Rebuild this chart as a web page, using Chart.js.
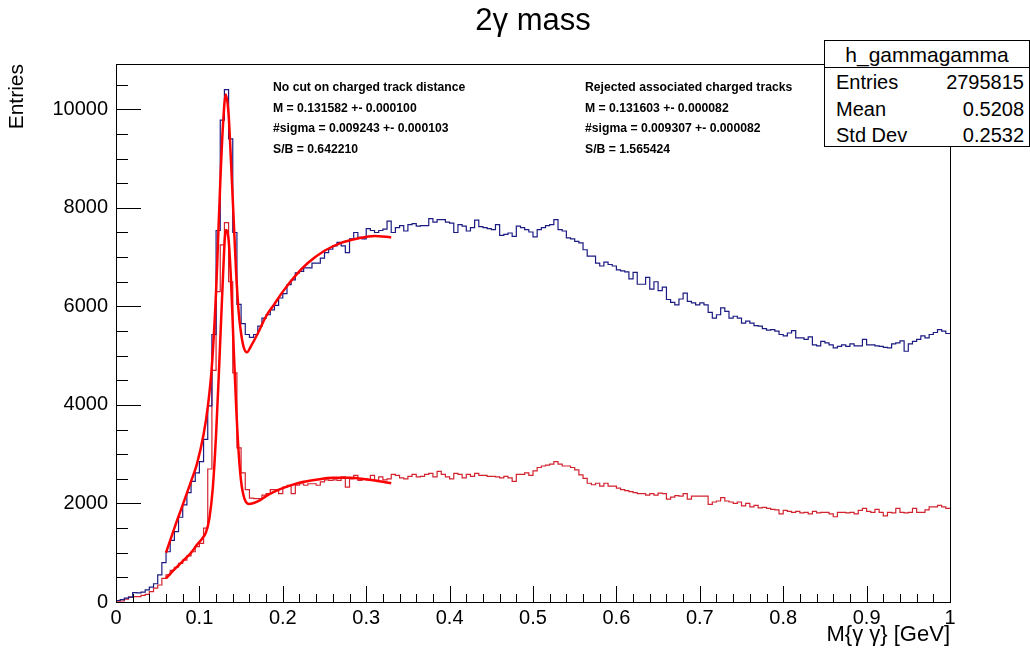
<!DOCTYPE html>
<html>
<head>
<meta charset="utf-8">
<title>2γ mass</title>
<script src="https://cdn.jsdelivr.net/npm/chart.js@4.4.0/dist/chart.umd.min.js"></script>
<style>
  body { margin: 0; background: #fff; }
  #wrap { position: relative; width: 1030px; height: 656px; overflow: hidden; }
  #chart { position: absolute; left: 0; top: 0; }
  #title { position: absolute; left: 383px; top: 1px; width: 300px; text-align: center; font: 31px "Liberation Sans", Arial, sans-serif; line-height: 38px; color: #000; }
  .note { position: absolute; top: 77px; font: bold 12.2px "Liberation Sans", Arial, sans-serif; line-height: 20.7px; color: #000; white-space: nowrap; }
  #stats { position: absolute; left: 824px; top: 40px; width: 204px; height: 105px; border: 1px solid #000; background: #fff;
           font: 20px "Liberation Sans", Arial, sans-serif; color: #000; }
  #stats .head { height: 26px; line-height: 28px; text-align: center; border-bottom: 1px solid #000; font-size: 21px; }
  #stats .row { height: 26.5px; line-height: 28px; padding: 0 5px 0 11px; display: flex; justify-content: space-between; }
</style>
</head>
<body>
<div id="wrap">
  <canvas id="chart" width="1030" height="656"></canvas>
  <div id="title">2γ mass</div>
  <div class="note" style="left:273px">No cut on charged track distance<br>M = 0.131582 +- 0.000100<br>#sigma = 0.009243 +- 0.000103<br>S/B = 0.642210</div>
  <div class="note" style="left:585px">Rejected associated charged tracks<br>M = 0.131603 +- 0.000082<br>#sigma = 0.009307 +- 0.000082<br>S/B = 1.565424</div>
  <div id="stats">
    <div class="head">h_gammagamma</div>
    <div class="row"><span>Entries</span><span>2795815</span></div>
    <div class="row"><span>Mean</span><span>0.5208</span></div>
    <div class="row"><span>Std Dev</span><span>0.2532</span></div>
  </div>
</div>
<script>
// binning of both histograms: 200 bins from 0 to 1 GeV
var binLow = 0;
var binWidth = 0.005;

// entries per bin, no cut on charged track distance (blue)
var hNoCut = [
  30, 50, 80, 100, 190, 185, 200, 245, 300, 370,
  550, 800, 1020, 1250, 1430, 1720, 1970, 2220, 2450, 2620,
  2850, 3300, 3980, 5430, 7540, 9780, 10400, 9400, 7500, 6040,
  5650, 5430, 5370, 5430, 5600, 5760, 5830, 5930, 6020, 6170,
  6260, 6440, 6540, 6680, 6710, 6780, 6780, 6880, 6880, 6980,
  7090, 7160, 7230, 7300, 7230, 7090, 7370, 7500, 7400, 7370,
  7580, 7540, 7500, 7540, 7570, 7730, 7500, 7600, 7640, 7530,
  7660, 7680, 7630, 7640, 7640, 7780, 7710, 7760, 7760, 7710,
  7690, 7500, 7660, 7630, 7530, 7600, 7750, 7620, 7600, 7580,
  7560, 7660, 7440, 7460, 7490, 7420, 7630, 7600, 7560, 7510,
  7410, 7560, 7600, 7640, 7660, 7760, 7560, 7530, 7390, 7370,
  7320, 7290, 7150, 7020, 7020, 6880, 6820, 6900, 6850, 6820,
  6740, 6720, 6700, 6560, 6690, 6450, 6450, 6590, 6350, 6500,
  6320, 6390, 6140, 6080, 6030, 6150, 6270, 6100, 6070, 6030,
  6070, 6030, 5880, 5760, 5830, 5970, 5900, 5760, 5800, 5760,
  5660, 5700, 5660, 5610, 5600, 5550, 5520, 5530, 5500, 5430,
  5400, 5460, 5510, 5360, 5360, 5330, 5380, 5220, 5200, 5290,
  5260, 5220, 5160, 5190, 5220, 5190, 5240, 5200, 5200, 5330,
  5220, 5220, 5200, 5190, 5170, 5160, 5240, 5260, 5300, 5090,
  5240, 5290, 5330, 5400, 5360, 5430, 5470, 5530, 5500, 5450
];

// entries per bin, rejected associated charged tracks (red)
var hRejected = [
  15, 20, 60, 100, 110, 110, 135, 155, 210, 280,
  345, 480, 550, 640, 705, 785, 850, 935, 1020, 1125,
  1190, 1500, 2700, 4700, 6300, 7250, 7700, 6500, 4650, 3130,
  2620, 2280, 2110, 2100, 2100, 2170, 2200, 2280, 2280, 2200,
  2330, 2370, 2200, 2370, 2400, 2370, 2400, 2400, 2370, 2440,
  2480, 2470, 2480, 2470, 2540, 2330, 2500, 2570, 2470, 2500,
  2480, 2570, 2470, 2540, 2480, 2500, 2590, 2570, 2520, 2500,
  2550, 2590, 2540, 2550, 2590, 2610, 2540, 2650, 2590, 2540,
  2500, 2610, 2590, 2520, 2590, 2550, 2610, 2570, 2570, 2550,
  2550, 2540, 2520, 2550, 2520, 2450, 2590, 2590, 2620, 2570,
  2660, 2730, 2760, 2780, 2800, 2850, 2800, 2760, 2760, 2730,
  2680, 2580, 2510, 2410, 2380, 2410, 2350, 2410, 2350, 2350,
  2310, 2280, 2260, 2240, 2220, 2200, 2200, 2170, 2200, 2170,
  2210, 2200, 2090, 2130, 2160, 2150, 2200, 2090, 2150, 2150,
  2150, 2150, 1980, 2030, 2050, 2120, 2050, 2030, 2000, 2030,
  1950, 2000, 1930, 1960, 1910, 1920, 1900, 1880, 1870, 1790,
  1860, 1840, 1820, 1840, 1810, 1820, 1790, 1840, 1810, 1820,
  1820, 1790, 1730, 1820, 1820, 1810, 1820, 1790, 1860, 1900,
  1840, 1820, 1880, 1820, 1750, 1820, 1810, 1900, 1820, 1810,
  1820, 1900, 1820, 1820, 1870, 1930, 1930, 1960, 1930, 1900
];

// fitted curves (gaus + background)
var fitNoCutX = [0.060, 0.070, 0.080, 0.090, 0.097, 0.105, 0.110, 0.115, 0.120, 0.1225, 0.125, 0.128, 0.1316, 0.135, 0.138, 0.141, 0.144, 0.147, 0.150, 0.153, 0.157, 0.162, 0.170, 0.180, 0.190, 0.200, 0.215, 0.230, 0.250, 0.270, 0.290, 0.310, 0.330];
var fitNoCutY = [1000, 1500, 1970, 2450, 2800, 3400, 3950, 4800, 6300, 7400, 8500, 9600, 10300, 9900, 8900, 7800, 6700, 5900, 5450, 5180, 5070, 5200, 5450, 5800, 6050, 6300, 6620, 6880, 7130, 7290, 7380, 7430, 7400];

var fitRejX = [0.060, 0.070, 0.080, 0.090, 0.097, 0.103, 0.108, 0.112, 0.116, 0.120, 0.124, 0.128, 0.1316, 0.135, 0.138, 0.141, 0.144, 0.147, 0.150, 0.154, 0.160, 0.170, 0.180, 0.190, 0.200, 0.220, 0.240, 0.260, 0.280, 0.300, 0.320, 0.330];
var fitRejY = [480, 660, 830, 1000, 1160, 1280, 1420, 1700, 2300, 3400, 4900, 6500, 7550, 7350, 6500, 5200, 4000, 3050, 2450, 2100, 1990, 2040, 2150, 2240, 2310, 2420, 2480, 2520, 2520, 2490, 2440, 2410];

// axes
var xTicks = [0, 0.1, 0.2, 0.3, 0.4, 0.5, 0.6, 0.7, 0.8, 0.9, 1];
var xTickLabels = ["0", "0.1", "0.2", "0.3", "0.4", "0.5", "0.6", "0.7", "0.8", "0.9", "1"];
var xMinorStep = 0.02;
var yTicks = [0, 2000, 4000, 6000, 8000, 10000];
var yMinorStep = 500;
var yMax = 10920;

function histPoints(h) {
  var pts = h.map(function (v, i) { return { x: binLow + i * binWidth, y: v }; });
  pts.push({ x: binLow + h.length * binWidth, y: h[h.length - 1] });
  return pts;
}
function curvePoints(xs, ys) {
  return xs.map(function (x, i) { return { x: x, y: ys[i] }; });
}

var font = "'Liberation Sans', Arial, sans-serif";

// ROOT style frame with ticks pointing inwards
var rootFrame = {
  id: "rootFrame",
  afterDatasetsDraw: function (chart) {
    var ctx = chart.ctx, a = chart.chartArea;
    var sx = chart.scales.x, sy = chart.scales.y;
    ctx.save();
    ctx.strokeStyle = "#000";
    ctx.lineWidth = 1;
    ctx.beginPath();
    for (var i = 0; i * xMinorStep <= sx.max + 1e-9; i++) {
      var px = Math.round(sx.getPixelForValue(i * xMinorStep)) + 0.5;
      var len = (i % 5 === 0) ? 16 : 8;
      ctx.moveTo(px, a.bottom);
      ctx.lineTo(px, a.bottom - len);
    }
    for (var j = 0; j * yMinorStep <= sy.max; j++) {
      var py = Math.round(sy.getPixelForValue(j * yMinorStep)) + 0.5;
      var l2 = (j % 4 === 0) ? 25 : 12;
      ctx.moveTo(a.left, py);
      ctx.lineTo(a.left + l2, py);
    }
    ctx.stroke();
    ctx.strokeRect(Math.round(a.left) + 0.5, Math.round(a.top) + 0.5, Math.round(a.right - a.left), Math.round(a.bottom - a.top));
    ctx.restore();
  }
};

var ctx = document.getElementById("chart").getContext("2d");
var chart = new Chart(ctx, {
  type: "line",
  data: {
    datasets: [
      {
        label: "fit no cut",
        data: curvePoints(fitNoCutX, fitNoCutY),
        borderColor: "#ff0000",
        borderWidth: 2.5,
        pointRadius: 0,
        cubicInterpolationMode: "monotone",
        fill: false
      },
      {
        label: "fit rejected",
        data: curvePoints(fitRejX, fitRejY),
        borderColor: "#ff0000",
        borderWidth: 2.5,
        pointRadius: 0,
        cubicInterpolationMode: "monotone",
        fill: false
      },
      {
        label: "No cut on charged track distance",
        data: histPoints(hNoCut),
        borderColor: "#1b1b82",
        borderWidth: 1.2,
        pointRadius: 0,
        stepped: "before",
        fill: false
      },
      {
        label: "Rejected associated charged tracks",
        data: histPoints(hRejected),
        borderColor: "#d2232f",
        borderWidth: 1.2,
        pointRadius: 0,
        stepped: "before",
        fill: false
      }
    ]
  },
  options: {
    responsive: false,
    animation: false,
    layout: { padding: { left: 0, right: 80, top: 64, bottom: 0 } },
    plugins: {
      legend: { display: false },
      tooltip: { enabled: false },
      title: { display: false }
    },
    scales: {
      x: {
        type: "linear",
        min: 0,
        max: 1,
        afterFit: function (s) { s.height = 54; },
        afterBuildTicks: function (s) { s.ticks = xTicks.map(function (v) { return { value: v }; }); },
        grid: { display: false, drawTicks: false },
        border: { display: true, color: "#000" },
        ticks: {
          autoSkip: false,
          maxRotation: 0,
          padding: 4,
          color: "#000",
          font: { family: font, size: 20 },
          callback: function (v, i) { return xTickLabels[i]; }
        },
        title: {
          display: true,
          text: "M{γ γ} [GeV]",
          align: "end",
          color: "#000",
          font: { family: font, size: 22 },
          padding: { top: 0, bottom: 8 }
        }
      },
      y: {
        type: "linear",
        min: 0,
        max: yMax,
        afterFit: function (s) { s.width = 116; },
        afterBuildTicks: function (s) { s.ticks = yTicks.map(function (v) { return { value: v }; }); },
        grid: { display: false, drawTicks: false },
        border: { display: true, color: "#000" },
        ticks: {
          padding: 8,
          color: "#000",
          font: { family: font, size: 20 },
          callback: function (v) { return String(v); }
        },
        title: {
          display: true,
          text: "Entries",
          align: "end",
          color: "#000",
          font: { family: font, size: 21 },
          padding: { top: 5, bottom: 0 }
        }
      }
    }
  },
  plugins: [rootFrame]
});
</script>
</body>
</html>
